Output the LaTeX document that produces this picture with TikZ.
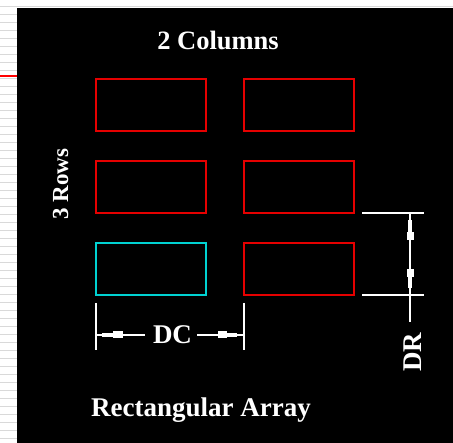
\documentclass[tikz,border=0pt]{standalone}
\usepackage{fontspec}
\setmainfont{Liberation Serif}
\definecolor{stripgray}{RGB}{217,217,217}
\definecolor{cellred}{RGB}{230,0,0}
\definecolor{cellcyan}{RGB}{0,210,210}
\begin{document}
\begin{tikzpicture}[x=1pt,y=-1pt,
  cell/.style={draw=cellred, line width=2pt, minimum width=110pt, minimum height=52pt, inner sep=0pt},
  dimline/.style={draw=white, line width=1.3pt},
  tipfill/.style={fill=white},
  lbl/.style={text=white, font=\fontsize{27}{27}\selectfont\bfseries, inner sep=0pt}
]
\useasboundingbox (0,0) rectangle (453,443);
% background
\fill[white] (0,0) rectangle (453,443);
\foreach \k in {0,...,54} {
  \draw[stripgray, line width=1.3pt] (0,{6.7+8*\k}) -- (17,{6.7+8*\k});
}
\draw[stripgray, line width=1.3pt] (0,6.7) -- (453,6.7);
\fill[black] (17,7.8) rectangle (453,443);
\draw[red, line width=2pt] (0,76) -- (17,76);

% cells
\node[cell] (r11) at (151,105) {};
\node[cell] (r12) at (299,105) {};
\node[cell] (r21) at (151,187) {};
\node[cell] (r22) at (299,187) {};
\node[cell, draw=cellcyan] (r31) at (151,269.5) {};
\node[cell] (r32) at (299,269.5) {};

% titles
\node[lbl, font=\fontsize{26.5}{26.5}\selectfont\bfseries, anchor=base] (cols) at (218,50) {2 Columns};
\node[lbl, font=\fontsize{23}{23}\selectfont\bfseries, rotate=90, anchor=base] (rows) at (68,184) {3 Rows};
\node[lbl, anchor=base] (title) at (201,417) {Rectangular Array};

% DC dimension
\coordinate (dcLa) at (96,303);
\coordinate (dcLb) at (96,350);
\coordinate (dcRa) at (244,303);
\coordinate (dcRb) at (244,350);
\coordinate (dcL) at (96,335);
\coordinate (dcR) at (244,335);
\draw[dimline] (dcLa) -- (dcLb);
\draw[dimline] (dcRa) -- (dcRb);
\node[lbl, anchor=base] (dc) at (172.5,344) {DC};
\draw[dimline] (dcL) -- (145,335);
\draw[dimline] (197,335) -- (dcR);
\fill[tipfill] (101.7,333) rectangle (113.3,337);
\fill[tipfill] (113.3,331.5) rectangle (123.3,338.5);
\fill[tipfill] (226.7,333) rectangle (236.7,337);
\fill[tipfill] (218.3,331.5) rectangle (226.7,338.5);

% DR dimension
\coordinate (drTa) at (362,213);
\coordinate (drTb) at (424,213);
\coordinate (drBa) at (362,295);
\coordinate (drBb) at (424,295);
\coordinate (drT) at (410,213);
\coordinate (drE) at (410,322);
\draw[dimline] (drTa) -- (drTb);
\draw[dimline] (drBa) -- (drBb);
\draw[dimline] (drT) -- (drE);
\fill[tipfill] (408,220) rectangle (412,232);
\fill[tipfill] (406.5,232) rectangle (413.5,240);
\fill[tipfill] (408,277) rectangle (412,288);
\fill[tipfill] (406.5,269) rectangle (413.5,277);
\node[lbl, rotate=90, anchor=base] (dr) at (421,352) {DR};
\end{tikzpicture}
\end{document}
